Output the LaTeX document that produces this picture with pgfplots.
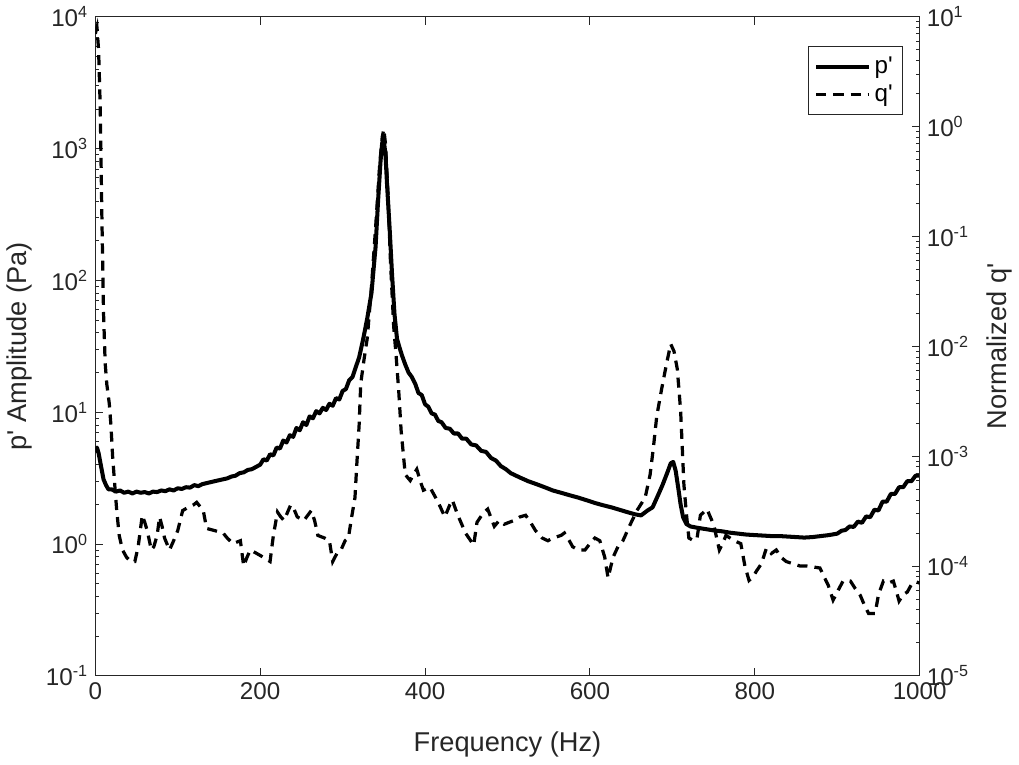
\documentclass[border=0pt]{standalone}
\usepackage{fontspec}
\setmainfont{Liberation Sans}
\usepackage{pgfplots}
\pgfplotsset{compat=1.18}
\definecolor{axgray}{rgb}{0.15,0.15,0.15}

\pgfplotstableread{
x y
0 5.0
2 5.4
4 4.9
6 4.2
8 3.6
10 3.1
13 2.8
16 2.6
20 2.6
25 2.5
30 2.55
35 2.45
40 2.5
45 2.42
50 2.5
55 2.45
60 2.48
65 2.42
70 2.5
75 2.48
80 2.55
85 2.52
90 2.6
95 2.55
100 2.65
105 2.62
110 2.7
115 2.68
120 2.8
125 2.75
130 2.85
135 2.9
140 2.95
145 3.0
150 3.05
155 3.1
160 3.15
165 3.25
170 3.3
175 3.45
180 3.5
185 3.65
190 3.7
195 3.85
200 4.0
204 4.4
208 4.3
212 4.8
216 4.7
220 5.4
224 5.3
228 6.1
232 5.9
236 6.7
240 6.5
244 7.6
248 7.3
252 8.4
256 8.0
260 9.3
264 9.0
268 10.2
272 9.8
276 10.8
280 10.4
284 11.6
288 11.2
292 12.8
296 12.5
300 14.5
304 15.0
308 17.5
312 18.5
316 22
320 26
325 36
330 52
335 80
340 180
343 400
346 800
348 1100
350 1150
352 900
354 520
357 250
360 110
363 55
366 36
369 31
372 27
376 23
380 20
384 18.5
388 16.5
392 14
396 13.5
400 11.5
404 11
408 9.8
412 9.6
416 8.6
420 8.4
425 7.6
430 7.5
435 6.9
440 6.9
445 6.3
450 6.3
456 5.7
462 5.6
468 5.1
474 5.0
480 4.5
486 4.3
492 3.9
498 3.7
504 3.45
515 3.2
525 3.0
535 2.85
545 2.7
555 2.55
565 2.45
575 2.35
586 2.25
596 2.15
606 2.05
616 1.97
626 1.9
636 1.82
645 1.75
655 1.68
662 1.65
670 1.8
676 1.9
682 2.3
688 2.8
694 3.5
698 4.1
701 4.2
704 3.6
707 2.7
710 2.0
713 1.6
717 1.42
722 1.36
730 1.33
740 1.3
750 1.27
760 1.25
770 1.22
780 1.2
790 1.18
800 1.17
810 1.16
820 1.15
830 1.15
840 1.14
850 1.13
860 1.12
870 1.13
880 1.15
890 1.17
900 1.2
905 1.26
910 1.28
915 1.36
920 1.35
925 1.48
930 1.45
935 1.62
940 1.6
945 1.82
950 1.8
955 2.1
960 2.1
965 2.4
970 2.4
975 2.7
980 2.7
985 3.0
990 3.0
995 3.3
1000 3.3
}\ptable

\pgfplotstableread{
x y
0 7
2 8
4 5
6 1.5
8 0.15
10 0.02
12 0.007
14 0.0045
17 0.003
19 0.0019
21 0.001
24 0.0005
26 0.00032
29 0.00019
33 0.00014
38 0.00012
43 0.00011
48 0.00011
52 0.00015
57 0.00029
60 0.00025
63 0.00021
68 0.00014
71 0.00015
75 0.00019
78 0.00028
81 0.00023
84 0.00018
90 0.00014
95 0.00017
100 0.00021
106 0.00032
112 0.00034
119 0.00036
123 0.00038
131 0.00032
135 0.00022
145 0.00021
155 0.0002
160 0.00018
167 0.00016
176 0.00017
180 0.0001
184 0.00012
188 0.00014
196 0.00013
204 0.00012
212 0.00011
216 0.00019
221 0.00031
225 0.00028
229 0.00026
237 0.00036
241 0.00033
245 0.00028
253 0.00026
262 0.00032
266 0.00026
270 0.00019
278 0.00018
284 0.00017
288 0.00011
293 0.00013
298 0.00014
303 0.00017
307 0.00018
311 0.00028
315 0.00042
317 0.00079
320 0.0019
322 0.0046
326 0.0076
330 0.012
335 0.035
340 0.12
345 0.45
348 0.8
350 0.95
352 0.7
355 0.25
358 0.06
362 0.015
365 0.008
368 0.004
371 0.0017
374 0.00098
376 0.00068
382 0.0006
386 0.00068
390 0.00076
394 0.0006
398 0.00049
406 0.00052
416 0.00038
424 0.00028
430 0.00036
433 0.0004
439 0.0003
449 0.0002
459 0.000155
463 0.00025
470 0.0003
476 0.00033
484 0.00023
490 0.00026
496 0.00024
502 0.00025
508 0.00026
515 0.00028
522 0.00029
528 0.00025
534 0.00021
542 0.00018
549 0.00017
555 0.00018
565 0.00019
569 0.0002
575 0.00017
579 0.00015
586 0.00014
594 0.00014
600 0.00016
606 0.00018
612 0.00017
618 0.00012
622 0.000078
628 0.00012
634 0.00015
640 0.00017
649 0.00024
657 0.00032
667 0.00042
673 0.00068
677 0.0012
681 0.0023
687 0.0041
693 0.007
698 0.0105
702 0.009
706 0.0062
710 0.0026
712 0.0012
714 0.00055
717 0.0003
720 0.00018
726 0.00017
730 0.00018
734 0.00029
742 0.00033
746 0.00028
750 0.00024
757 0.00014
761 0.00016
765 0.00019
770 0.00018
775 0.00017
783 0.00016
788 0.0001
793 0.000074
798 0.00008
802 0.00009
808 0.000105
814 0.000145
820 0.00013
826 0.00014
832 0.00012
838 0.00011
846 0.000105
855 0.0001
863 0.0001
871 0.000098
879 0.000096
884 0.00008
889 0.000067
895 0.000049
901 0.00006
907 0.000073
912 0.000074
916 0.000073
922 0.000062
928 0.000054
933 0.000044
938 0.000037
946 0.000037
950 0.000055
956 0.000073
962 0.00007
968 0.000073
972 0.000058
975 0.000048
980 0.000055
985 0.000058
990 0.000068
995 0.000072
1000 0.00007
}\qtable

\begin{document}
\begin{tikzpicture}
\begin{axis}[
  width=409pt, height=327pt, scale only axis,
  xmin=0, xmax=1000,
  ymode=log, ymin=0.1, ymax=10000,
  tick align=inside,
  major tick length=4pt, minor tick length=2pt,
  axis line style={axgray, line width=0.5pt},
  every tick/.style={axgray, line width=0.5pt},
  every minor tick/.style={axgray, line width=0.4pt},
  tick label style={font=\fontsize{12}{14}\selectfont, text=axgray},
  label style={font=\fontsize{13.5}{16}\selectfont, text=axgray},
  xlabel style={yshift=-9pt},
  /pgf/number format/assume math mode=true,
  /pgf/number format/1000 sep={},
  xtick={0,200,400,600,800,1000},
  ytick={0.1,1,10,100,1000,10000},
  yticklabels={10\textsuperscript{-1},10\textsuperscript{0},10\textsuperscript{1},10\textsuperscript{2},10\textsuperscript{3},10\textsuperscript{4}},
  minor ytick={0.2,0.3,0.4,0.5,0.6,0.7,0.8,0.9,2,3,4,5,6,7,8,9,20,30,40,50,60,70,80,90,200,300,400,500,600,700,800,900,2000,3000,4000,5000,6000,7000,8000,9000},
  ytick pos=left,
  xlabel={Frequency (Hz)},
  ylabel={p\textquotesingle{} Amplitude (Pa)},
]
\addplot[black, line width=2pt, line join=round] table[x=x,y=y] {\ptable};
\end{axis}
\begin{axis}[
  width=409pt, height=327pt, scale only axis,
  xmin=0, xmax=1000,
  ymode=log, ymin=1e-5, ymax=10,
  tick align=inside,
  major tick length=4pt, minor tick length=2pt,
  axis line style={axgray, line width=0.5pt},
  every tick/.style={axgray, line width=0.5pt},
  every minor tick/.style={axgray, line width=0.4pt},
  tick label style={font=\fontsize{12}{14}\selectfont, text=axgray},
  label style={font=\fontsize{13.5}{16}\selectfont, text=axgray},
  ylabel style={yshift=-2pt},
  axis y line*=right, axis x line=none,
  ytick={1e-5,1e-4,1e-3,1e-2,1e-1,1,10},
  yticklabels={10\textsuperscript{-5},10\textsuperscript{-4},10\textsuperscript{-3},10\textsuperscript{-2},10\textsuperscript{-1},10\textsuperscript{0},10\textsuperscript{1}},
  minor ytick={2e-5,3e-5,4e-5,5e-5,6e-5,7e-5,8e-5,9e-5,2e-4,3e-4,4e-4,5e-4,6e-4,7e-4,8e-4,9e-4,2e-3,3e-3,4e-3,5e-3,6e-3,7e-3,8e-3,9e-3,0.02,0.03,0.04,0.05,0.06,0.07,0.08,0.09,0.2,0.3,0.4,0.5,0.6,0.7,0.8,0.9,2,3,4,5,6,7,8,9},
  ylabel={Normalized q\textquotesingle},
  legend style={at={(0.98,0.955)}, anchor=north east, draw=axgray, line width=0.5pt,
    font=\fontsize{12}{14}\selectfont, inner sep=3pt, row sep=0pt},
  legend cell align=left,
  legend image code/.code={\draw[#1] (0pt,0pt) -- (26pt,0pt);},
]
\addlegendimage{black, line width=1.8pt}
\addlegendentry{p\textquotesingle}
\addplot[black, line width=1.6pt, dash pattern=on 5pt off 3.5pt] table[x=x,y=y] {\qtable};
\addlegendentry{q\textquotesingle}
\end{axis}
\end{tikzpicture}
\end{document}
